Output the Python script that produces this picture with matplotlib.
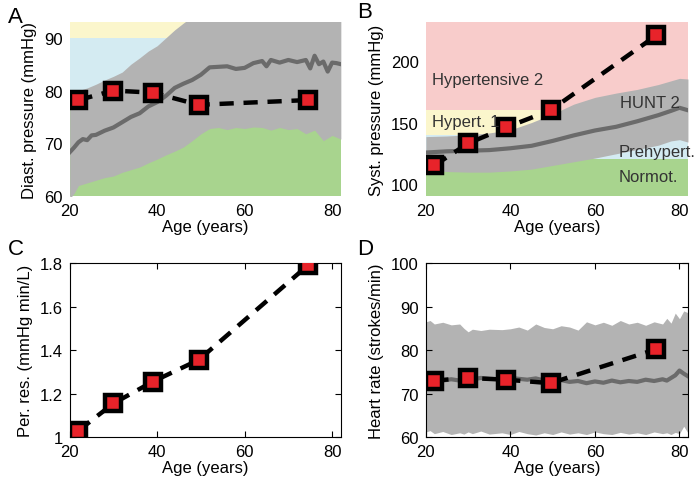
import numpy as np
import matplotlib.pyplot as plt

plt.rcParams['font.family'] = ['Liberation Sans', 'DejaVu Sans']
plt.rcParams['font.size'] = 12

# study groups (age, measured values)
age = [22, 30, 39, 49.5, 74.5]
diast = [78.2, 80.0, 79.6, 77.3, 78.2]
syst = [115, 133, 146, 160, 221]
perres = [1.03, 1.155, 1.255, 1.355, 1.79]
hrate = [73.0, 73.6, 73.2, 72.4, 80.2]

# HUNT 2 population bands, diastolic
dA_age = [20, 21, 22, 24, 26, 28, 30, 32, 34, 36, 38, 40, 42, 44, 46, 48, 50, 52, 54, 56, 58,
          60, 62, 64, 66, 68, 70, 72, 74, 76, 78, 80, 82]
dA_lo = [59.5, 60.5, 62, 62.5, 63, 63.5, 63.8, 64.5, 65, 65.5, 66.3, 67, 67.8, 68.5, 69.3, 70.5,
         71.8, 72.8, 73, 72.6, 73, 72.8, 73.1, 73, 72.5, 73, 72.6, 72.8, 71.8, 72.5, 70.5, 71.5, 70.8]
dA_hi = [79.5, 79.8, 80, 80.5, 81.2, 82, 82.7, 83.5, 85, 86.2, 87.5, 88.5, 90, 91.5, 92.8, 94,
         96, 96, 96, 96, 96, 96, 96, 96, 96, 96, 96, 96, 96, 96, 96, 96, 96]
mA_age = [20, 21, 22, 23, 24, 25, 26, 28, 30, 32, 34, 36, 38, 40, 42, 44, 46, 48, 50, 52, 54, 56,
          58, 60, 62, 64, 65, 66, 68, 70, 72, 74, 75, 76, 77, 78, 79, 80, 81, 82]
mA = [68.3, 69.2, 70.2, 70.8, 70.6, 71.5, 71.6, 72.4, 73, 74, 75, 75.7, 77, 77.8, 79, 80.5, 81.3,
      82, 83, 84.4, 84.5, 84.6, 84.1, 84.3, 85.2, 85.6, 84.6, 85.8, 85.3, 85.8, 85.4, 85.8, 84.2,
      86.6, 85, 85.5, 83.6, 85.3, 85.2, 85]

# systolic
sB_age = [20, 25, 30, 35, 40, 45, 50, 55, 60, 65, 70, 75, 78, 80, 82]
sB_lo = [111.5, 110, 109.5, 109.5, 110.5, 112, 115, 118, 121, 124.5, 128, 131.5, 135, 136, 134]
sB_hi = [138.5, 139, 140, 141.5, 144, 150, 157, 165, 170.5, 174, 177, 181, 184, 186, 185.5]
sB_mean = [125.5, 126.5, 127, 127.5, 129, 131, 135, 139.5, 143.5, 146.5, 151, 156, 159.5, 162, 160]

# heart rate
hD_age = [20, 21, 22, 24, 26, 28, 29, 30, 31, 33, 35, 38, 40, 42, 44, 46, 48, 50, 52, 54, 56, 58,
          60, 62, 64, 66, 68, 70, 72, 74, 76, 77, 78, 79, 80, 81, 82]
hD_hi = [86.5, 86.8, 86, 86.4, 85.8, 86, 85, 84.2, 84.8, 84.5, 84.8, 84.7, 84.9, 85.3, 84.6, 86,
         85.2, 84.9, 85.6, 85.3, 84.6, 86.5, 85.8, 86.4, 85.7, 86.8, 86, 86.4, 85.7, 86.5, 86,
         87.3, 86.2, 88.5, 87.2, 89, 88.6]
hD_lo = [61.2, 61.5, 60.8, 61.3, 60.6, 61, 60.7, 61.2, 60.8, 61.4, 60.7, 61, 60.6, 61.3, 60.8,
         60.5, 61, 60.6, 61.2, 60.7, 61, 60.6, 61.2, 60.8, 60.6, 61.1, 60.7, 61, 60.6, 61.2, 60.8,
         61, 60.6, 61.1, 60.8, 62.5, 61]
hD_mean = [73.4, 73.1, 73.2, 73.0, 73.3, 73.0, 72.8, 73.1, 73.3, 73.6, 73.4, 73.3, 73.6, 73.4,
           73.2, 73.5, 73.0, 72.8, 73.1, 72.7, 72.9, 72.4, 72.8, 72.5, 73.0, 72.6, 72.9, 72.7,
           73.2, 72.9, 73.3, 73.0, 73.6, 74.2, 75.3, 74.6, 74.0]

green = '#a8d48e'
blue = '#d4ebf2'
yellow = '#fbf6cc'
pink = '#f8cccb'
band = '#b3b3b3'
mline = '#6b6b6b'
red = '#e8232a'

fig = plt.figure(figsize=(6.97, 4.89), dpi=100)
axA = fig.add_axes([0.100, 0.597, 0.389, 0.356])
axB = fig.add_axes([0.611, 0.597, 0.376, 0.356])
axC = fig.add_axes([0.100, 0.104, 0.389, 0.356])
axD = fig.add_axes([0.611, 0.104, 0.376, 0.356])


def study(ax, y):
    ax.plot(age, y, color='k', lw=3.2, dashes=(3.2, 2.2), zorder=4)
    ax.plot(age, y, ls='none', marker='s', ms=11, mfc=red, mec='k', mew=3.2, zorder=5)


# A
axA.axhspan(50, 80, color=green, lw=0, zorder=0)
axA.axhspan(80, 90, color=blue, lw=0, zorder=0)
axA.axhspan(90, 100, color=yellow, lw=0, zorder=0)
axA.fill_between(dA_age, dA_lo, dA_hi, color=band, lw=0, zorder=1)
axA.plot(mA_age, mA, color=mline, lw=3, zorder=2)
study(axA, diast)
axA.set_ylim(60, 93)
axA.set_yticks([60, 70, 80, 90])
axA.set_ylabel('Diast. pressure (mmHg)')

# B
axB.axhspan(80, 120, color=green, lw=0, zorder=0)
axB.axhspan(120, 140, color=blue, lw=0, zorder=0)
axB.axhspan(140, 160, color=yellow, lw=0, zorder=0)
axB.axhspan(160, 260, color=pink, lw=0, zorder=0)
axB.fill_between(sB_age, sB_lo, sB_hi, color=band, lw=0, zorder=1)
axB.plot(sB_age, sB_mean, color=mline, lw=3, zorder=2)
study(axB, syst)
axB.set_ylim(90, 232)
axB.set_yticks([100, 150, 200])
axB.set_ylabel('Syst. pressure (mmHg)')
tc = '#333333'
axB.text(21.5, 185, 'Hypertensive 2', va='center', color=tc, zorder=6)
axB.text(21.5, 151, 'Hypert. 1', va='center', color=tc, zorder=6)
axB.text(66, 166, 'HUNT 2', va='center', color=tc, zorder=6)
axB.text(65.5, 126.5, 'Prehypert.', va='center', color=tc, zorder=6)
axB.text(65.5, 106, 'Normot.', va='center', color=tc, zorder=6)

for ax in (axA, axB):
    for s in ax.spines.values():
        s.set_visible(False)
    ax.tick_params(length=0, pad=5)

# C
study(axC, perres)
axC.set_ylim(1, 1.8)
axC.set_yticks([1, 1.2, 1.4, 1.6, 1.8])
axC.set_yticklabels(['1', '1.2', '1.4', '1.6', '1.8'])
axC.set_ylabel('Per. res. (mmHg min/L)')

# D
axD.fill_between(hD_age, hD_lo, hD_hi, color=band, lw=0, zorder=1)
axD.plot(hD_age, hD_mean, color=mline, lw=3, zorder=2)
study(axD, hrate)
axD.set_ylim(60, 100)
axD.set_yticks([60, 70, 80, 90, 100])
axD.set_ylabel('Heart rate (strokes/min)')

for ax in (axC, axD):
    ax.tick_params(direction='in', top=True, right=True, length=4, width=0.8, pad=5)
    for s in ax.spines.values():
        s.set_linewidth(0.8)

for ax in (axA, axB, axC, axD):
    ax.set_xlim(20, 82)
    ax.set_xticks([20, 40, 60, 80])
    ax.set_xlabel('Age (years)', labelpad=1)
    ax.yaxis.labelpad = 5

fig.text(0.012, 0.965, 'A', fontsize=16, va='center')
fig.text(0.513, 0.975, 'B', fontsize=16, va='center')
fig.text(0.012, 0.49, 'C', fontsize=16, va='center')
fig.text(0.513, 0.49, 'D', fontsize=16, va='center')

fig.savefig('out.png', dpi=100)
